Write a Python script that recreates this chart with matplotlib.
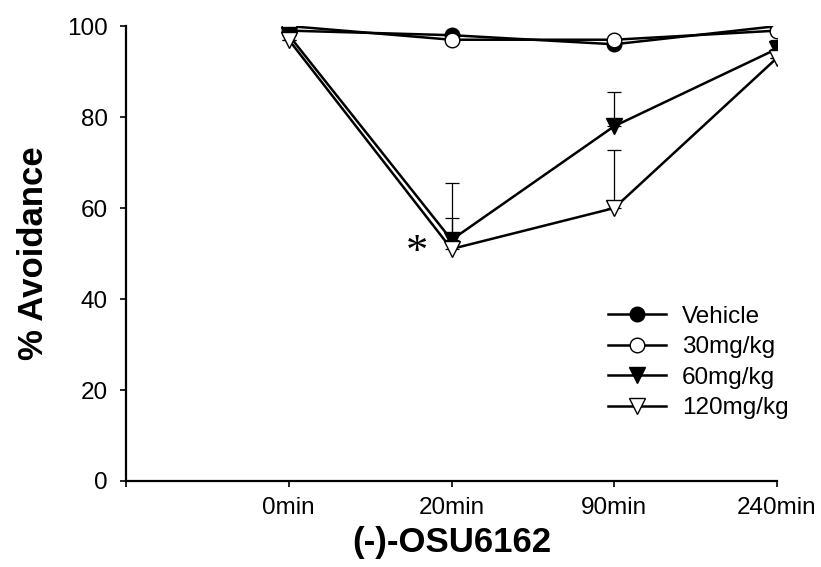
import matplotlib.pyplot as plt
import numpy as np

plt.rcParams['font.family'] = ['Liberation Sans', 'DejaVu Sans']

# data
times = ['0min', '20min', '90min', '240min']
vehicle = [99, 98, 96, 100]
mg30 = [100, 97, 97, 99]
mg60 = [98, 53, 78, 95]
mg120 = [97, 51, 60, 93]
err60 = [0, 4.8, 7.4, 2.0]
err120 = [0, 14.5, 12.8, 0]

x = np.arange(1, len(times) + 1)

fig = plt.figure(figsize=(8.21, 5.67), dpi=100)
ax = fig.add_axes([0.1535, 0.1517, 0.7929, 0.8023])

# error bars (upper only)
ax.errorbar(x, mg60, yerr=[np.zeros(4), err60], fmt='none', ecolor='black',
            elinewidth=0.9, capsize=5, capthick=0.9, zorder=1)
ax.errorbar(x, mg120, yerr=[np.zeros(4), err120], fmt='none', ecolor='black',
            elinewidth=0.9, capsize=5, capthick=0.9, zorder=1)

ax.plot(x, vehicle, '-o', color='black', mfc='black', mec='black', ms=10.5, lw=1.8,
        mew=1, label='Vehicle', zorder=3)
ax.plot(x, mg30, '-o', color='black', mfc='white', mec='black', ms=10.5, lw=1.8,
        mew=1, label='30mg/kg', zorder=3)
ax.plot(x, mg60, '-v', color='black', mfc='black', mec='black', ms=11.5, lw=1.8,
        mew=1, label='60mg/kg', zorder=3)
ax.plot(x, mg120, '-v', color='black', mfc='white', mec='black', ms=11.5, lw=1.8,
        mew=1, label='120mg/kg', zorder=3)

# significance mark
ax.text(1.79, 50.2, '*', fontsize=32, family='Liberation Serif',
        ha='center', va='center')

ax.set_xlim(0, 4)
ax.set_ylim(0, 100)
ax.set_xticks(np.arange(0, 5))
ax.set_xticklabels([''] + times)
ax.set_yticks(np.arange(0, 101, 20))
ax.tick_params(labelsize=17.5, length=4.3, width=1.2, direction='out')
ax.tick_params(axis='x', pad=7)
ax.tick_params(axis='y', pad=9)
for s in ['top', 'right']:
    ax.spines[s].set_visible(False)
for s in ['left', 'bottom']:
    ax.spines[s].set_linewidth(1.6)

ax.set_xlabel('(-)-OSU6162', fontsize=25, fontweight='bold', labelpad=5)
ax.set_ylabel('% Avoidance', fontsize=25, fontweight='bold', labelpad=12)

ax.legend(loc='upper left', bbox_to_anchor=(0.74, 0.385), frameon=False,
          fontsize=17.5, handlelength=2.4, handletextpad=0.65, labelspacing=0.35,
          borderpad=0, borderaxespad=0)

fig.savefig('out.png', dpi=100)
